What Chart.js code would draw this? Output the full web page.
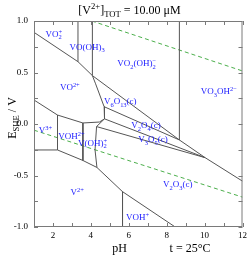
<!DOCTYPE html>
<html>
<head>
<meta charset="utf-8">
<script src="https://cdn.jsdelivr.net/npm/chart.js@4.4.1/dist/chart.umd.min.js"></script>
<style>
  html, body { margin: 0; padding: 0; background: #fff; }
  canvas { display: block; }
</style>
</head>
<body>
<canvas id="chart" width="250" height="257"></canvas>
<script>
const SERIF = "'Liberation Serif', 'DejaVu Serif', serif";

// axis ranges and tick marks
const xTickMarks = [1, 2, 3, 4, 5, 6, 7, 8, 9, 10, 11, 12];
const yTickMarks = [-1, -0.75, -0.5, -0.25, 0, 0.25, 0.5, 0.75, 1];

// boundaries, [pH, E] pairs
const vo2pLower = [[1, 0.89], [3.32, 0.605], [4.08, 0.47]];
const vo2pVooh3 = [[3.32, 0.605], [3.32, 1]];
const vooh3Vo2oh2 = [[4.08, 0.47], [4.08, 1]];
const vo2V6o13 = [[4.08, 0.47], [4.25, 0.39], [4.70, 0.168], [4.72, 0.05]];
const vo2Lower = [[1, 0.233], [2.24, 0.087], [3.58, 0.01], [4.45, 0.019], [4.72, 0.05]];
const vo2V3o5 = [[4.72, 0.05], [4.30, -0.025]];
const oxideTop = [[4.08, 0.47], [8.67, -0.155], [10.03, -0.327], [12, -0.555]];
const vo2oh2Vo3oh = [[8.67, -0.155], [8.67, 1]];
const v6o13V2o4 = [[4.70, 0.168], [8.67, -0.155]];
const v2o4V3o5 = [[4.72, 0.05], [10.03, -0.327]];
const v3o5V2o3 = [[4.30, -0.025], [10.03, -0.327]];
const voh2pRight = [[4.30, -0.025], [4.22, -0.252], [4.32, -0.422]];
const v3Voh = [[2.24, 0.087], [2.24, -0.252]];
const vohVoh2 = [[3.58, 0.01], [3.58, -0.354]];
const v2Upper = [[1, -0.252], [2.24, -0.252], [3.58, -0.354], [4.32, -0.422], [5.67, -0.657]];
const v2Voh = [[5.67, -0.657], [5.67, -1]];
const vohV2o3 = [[5.67, -0.657], [8.45, -1]];

// water stability lines
const o2Line = [[4.05, 1], [12, 0.515]];
const h2Line = [[1, -0.06], [12, -0.71]];

// region labels
const regionText = ['VO_{2}^{+}', 'VO(OH)_{3}', 'VO_{2}(OH)_{2}^{−}', 'VO^{2+}', 'VO_{3}OH^{2−}',
  'V_{6}O_{13}(c)', 'V_{2}O_{4}(c)', 'V_{3}O_{5}(c)', 'V^{3+}', 'VOH^{2+}',
  'V(OH)_{2}^{+}', 'V^{2+}', 'VOH^{+}', 'V_{2}O_{3}(c)'];
const regionPH = [2.05, 3.80, 6.42, 2.89, 10.75, 5.55, 6.91, 7.28, 1.61, 2.97, 4.09, 3.28, 6.47, 8.58];
const regionE = [0.874, 0.748, 0.592, 0.359, 0.320, 0.223, -0.01, -0.150, -0.058, -0.117, -0.184, -0.660, -0.903, -0.583];

const boundaries = [vo2pLower, vo2pVooh3, vooh3Vo2oh2, vo2V6o13, vo2Lower, vo2V3o5, oxideTop,
  vo2oh2Vo3oh, v6o13V2o4, v2o4V3o5, v3o5V2o3, voh2pRight, v3Voh, vohVoh2, v2Upper, v2Voh, vohV2o3];

function toPoints(arr) {
  return arr.map(p => ({ x: p[0], y: p[1] }));
}

const datasets = boundaries.map(b => ({
  data: toPoints(b),
  showLine: true,
  borderColor: '#555',
  borderWidth: 1,
  pointRadius: 0,
  fill: false
}));
[o2Line, h2Line].forEach(w => datasets.push({
  data: toPoints(w),
  showLine: true,
  borderColor: '#4caf4c',
  borderWidth: 1,
  borderDash: [4, 3],
  pointRadius: 0,
  fill: false
}));

// "VO_{2}^{+}" -> [[text, 0 normal / 1 sub / 2 sup], ...]
function parseRich(s) {
  const out = [];
  let i = 0;
  while (i < s.length) {
    if ((s[i] === '_' || s[i] === '^') && s[i + 1] === '{') {
      const j = s.indexOf('}', i);
      out.push([s.slice(i + 2, j), s[i] === '_' ? 1 : 2]);
      i = j + 1;
    } else {
      let j = i;
      while (j < s.length && !((s[j] === '_' || s[j] === '^') && s[j + 1] === '{')) j++;
      out.push([s.slice(i, j), 0]);
      i = j;
    }
  }
  return out;
}

// lays out the parts, returns total width; draws if draw is true
function richText(ctx, parts, x, y, size, draw) {
  const small = size * 0.72;
  let cx = x;
  let subStart = null, subW = 0;
  parts.forEach(([t, mode]) => {
    ctx.font = (mode ? small : size) + 'px ' + SERIF;
    const w = ctx.measureText(t).width;
    if (mode === 2 && subStart !== null) {
      // stack the superscript above the preceding subscript
      if (draw) ctx.fillText(t, subStart, y - size * 0.38);
      cx = subStart + Math.max(w, subW);
      subStart = null;
      return;
    }
    const dy = mode === 1 ? size * 0.28 : mode === 2 ? -size * 0.38 : 0;
    if (draw) ctx.fillText(t, cx, y + dy);
    if (mode === 1) { subStart = cx; subW = w; } else { subStart = null; }
    cx += w;
  });
  return cx - x;
}

const decorPlugin = {
  id: 'decor',
  afterDraw(chart) {
    const ctx = chart.ctx;
    const a = chart.chartArea;
    const xs = chart.scales.x, ys = chart.scales.y;
    ctx.save();

    // frame
    ctx.strokeStyle = '#7a7a7a';
    ctx.lineWidth = 1;
    ctx.strokeRect(a.left + 0.5, a.top + 0.5, a.right - a.left - 1, a.bottom - a.top - 1);

    // inward ticks on all four sides
    ctx.beginPath();
    xTickMarks.forEach(v => {
      const px = Math.round(xs.getPixelForValue(v)) + 0.5;
      ctx.moveTo(px, a.bottom); ctx.lineTo(px, a.bottom - 4);
      ctx.moveTo(px, a.top); ctx.lineTo(px, a.top + 4);
    });
    yTickMarks.forEach(v => {
      const py = Math.round(ys.getPixelForValue(v)) + 0.5;
      ctx.moveTo(a.left, py); ctx.lineTo(a.left + 4, py);
      ctx.moveTo(a.right, py); ctx.lineTo(a.right - 4, py);
    });
    ctx.stroke();

    // region labels
    ctx.fillStyle = '#1a1aff';
    ctx.textBaseline = 'alphabetic';
    ctx.textAlign = 'left';
    regionText.forEach((s, i) => {
      const parts = parseRich(s);
      const w = richText(ctx, parts, 0, 0, 9, false);
      const cx = xs.getPixelForValue(regionPH[i]);
      const cy = ys.getPixelForValue(regionE[i]);
      richText(ctx, parts, cx - w / 2, cy + 3, 9, true);
    });

    // title
    ctx.fillStyle = '#000';
    const title = parseRich('[V^{2+}]_{TOT} = 10.00 μM');
    const tw = richText(ctx, title, 0, 0, 12, false);
    richText(ctx, title, 129.5 - tw / 2, 13.5, 12, true);

    // x axis titles
    ctx.font = '12px ' + SERIF;
    ctx.textAlign = 'center';
    ctx.fillText('pH', 119.5, 252);
    ctx.fillText('t = 25°C', 190, 252);

    // y axis title
    ctx.textAlign = 'left';
    const ytitle = parseRich('E_{SHE} / V');
    const yw = richText(ctx, ytitle, 0, 0, 12, false);
    ctx.translate(15.5, 118);
    ctx.rotate(-Math.PI / 2);
    richText(ctx, ytitle, -yw / 2, 0, 12, true);

    ctx.restore();
  }
};

new Chart(document.getElementById('chart'), {
  type: 'scatter',
  data: { datasets: datasets },
  options: {
    responsive: false,
    animation: false,
    layout: { padding: { top: 21, right: 4, left: 0, bottom: 0 } },
    plugins: {
      legend: { display: false },
      tooltip: { enabled: false },
      title: { display: false }
    },
    scales: {
      x: {
        type: 'linear',
        min: 1,
        max: 12,
        grid: { display: false, drawTicks: false },
        border: { display: false },
        ticks: {
          stepSize: 1,
          autoSkip: false,
          maxRotation: 0,
          padding: 3,
          color: '#000',
          font: { family: SERIF, size: 9 },
          callback: v => (v % 2 === 0 ? String(v) : '')
        },
        afterFit: s => { s.height = 30; }
      },
      y: {
        min: -1,
        max: 1,
        grid: { display: false, drawTicks: false },
        border: { display: false },
        ticks: {
          stepSize: 0.5,
          padding: 6,
          color: '#000',
          font: { family: SERIF, size: 9 },
          callback: v => v.toFixed(1)
        },
        afterFit: s => { s.width = 34; }
      }
    }
  },
  plugins: [decorPlugin]
});
</script>
</body>
</html>
